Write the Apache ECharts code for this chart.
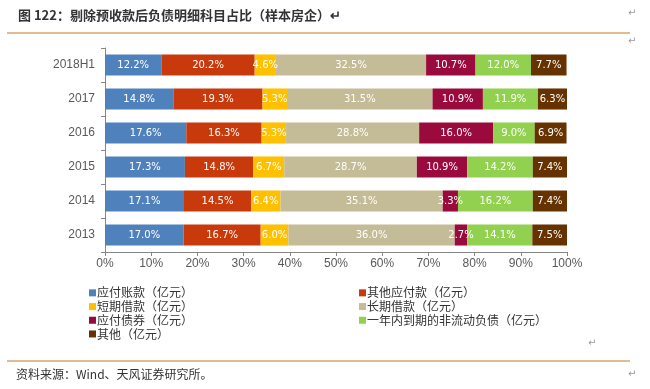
<!DOCTYPE html>
<html><head><meta charset="utf-8">
<script src="https://cdn.jsdelivr.net/npm/echarts@6/dist/echarts.min.js"></script>
<style>html,body{margin:0;padding:0;background:#fff}#c{width:650px;height:389px}</style>
</head><body><div id="c"></div>
<script>
const categories = ['2013', '2014', '2015', '2016', '2017', '2018H1'];
const seriesNames = ['应付账款（亿元）', '其他应付款（亿元）', '短期借款（亿元）', '长期借款（亿元）', '应付债券（亿元）', '一年内到期的非流动负债（亿元）', '其他（亿元）'];
const payables      = [17.0, 17.1, 17.3, 17.6, 14.8, 12.2];
const otherPayables = [16.7, 14.5, 14.8, 16.3, 19.3, 20.2];
const shortLoans    = [6.0, 6.4, 6.7, 5.3, 5.3, 4.6];
const longLoans     = [36.0, 35.1, 28.7, 28.8, 31.5, 32.5];
const bonds         = [2.7, 3.3, 10.9, 16.0, 10.9, 10.7];
const currentNonCur = [14.1, 16.2, 14.2, 9.0, 11.9, 12.0];
const others        = [7.5, 7.4, 7.4, 6.9, 6.3, 7.7];
const xTicks = ['0%', '10%', '20%', '30%', '40%', '50%', '60%', '70%', '80%', '90%', '100%'];

const colors = ['#4F81BD', '#C8390C', '#FFC000', '#C4BC96', '#9B0A3C', '#92D050', '#663300'];
const values = [payables, otherPayables, shortLoans, longLoans, bonds, currentNonCur, others];

const chart = echarts.init(document.getElementById('c'));
chart.setOption({
  animation: false,
  title: {
    text: '图 122：剔除预收款后负债明细科目占比（样本房企）↵',
    left: 13, top: 4,
    textStyle: { fontFamily: 'Noto Sans CJK SC', fontSize: 13, fontWeight: 'bold', color: '#333' }
  },
  graphic: [
    { type: 'line', shape: { x1: 7, y1: 33, x2: 630, y2: 33 }, style: { stroke: '#D9A56A', lineWidth: 1.5 } },
    { type: 'line', shape: { x1: 7, y1: 361, x2: 630, y2: 361 }, style: { stroke: '#D9A56A', lineWidth: 1.5 } },
    { type: 'text', left: 16, top: 368, style: { text: '资料来源：Wind、天风证券研究所。', font: '12px "Noto Sans CJK SC"', fill: '#333' } },
    { type: 'text', left: 628, top: 8, style: { text: '↵', font: '10px "DejaVu Sans"', fill: '#999' } },
    { type: 'text', left: 628, top: 36, style: { text: '↵', font: '10px "DejaVu Sans"', fill: '#999' } },
    { type: 'text', left: 588, top: 338, style: { text: '↵', font: '10px "DejaVu Sans"', fill: '#999' } },
    { type: 'text', left: 628, top: 369, style: { text: '↵', font: '10px "DejaVu Sans"', fill: '#999' } }
  ],
  grid: { left: 105, right: 83, top: 48, height: 204 },
  xAxis: {
    type: 'value', min: 0, max: 100, interval: 10,
    axisLine: { show: true, lineStyle: { color: '#868686' } },
    axisTick: { show: true, length: 4, lineStyle: { color: '#868686' } },
    splitLine: { show: false },
    axisLabel: { formatter: v => xTicks[Math.round(v / 10)], fontFamily: 'Liberation Sans', fontSize: 12, color: '#595959', margin: 6 }
  },
  yAxis: {
    type: 'category', data: categories,
    axisLine: { show: true, lineStyle: { color: '#868686' } },
    axisTick: { show: true, length: 4, inside: false, lineStyle: { color: '#868686' } },
    axisLabel: { fontFamily: 'Liberation Sans', fontSize: 12, color: '#595959', margin: 10 }
  },
  legend: [
    {
      data: [seriesNames[0], seriesNames[2], seriesNames[4], seriesNames[6]],
      orient: 'vertical', left: 84, top: 281, itemWidth: 7, itemHeight: 7, itemGap: 0,
      icon: 'rect',
      textStyle: { fontFamily: 'Noto Sans CJK SC', fontSize: 12, color: '#333', padding: [0, 0, 0, -4], lineHeight: 13.7 }
    },
    {
      data: [seriesNames[1], seriesNames[3], seriesNames[5]],
      orient: 'vertical', left: 354, top: 281, itemWidth: 7, itemHeight: 7, itemGap: 0,
      icon: 'rect',
      textStyle: { fontFamily: 'Noto Sans CJK SC', fontSize: 12, color: '#333', padding: [0, 0, 0, -4], lineHeight: 13.7 }
    }
  ],
  series: seriesNames.map((name, i) => ({
    name, type: 'bar', stack: 'total', barWidth: '62%',
    data: values[i],
    itemStyle: { color: colors[i] },
    label: {
      show: true, position: 'inside', formatter: p => p.value.toFixed(1) + '%',
      color: '#fff', fontFamily: 'DejaVu Sans', fontSize: 10
    }
  }))
});
</script></body></html>
